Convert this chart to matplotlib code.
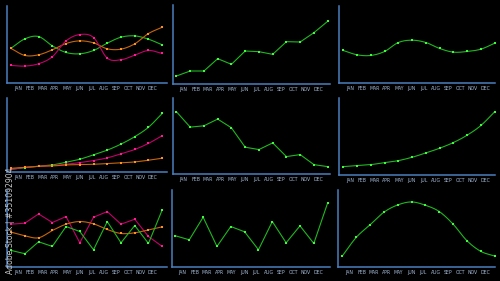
import numpy as np
import matplotlib
matplotlib.use("Agg")
import matplotlib.pyplot as plt

months = ["JAN", "FEB", "MAR", "APR", "MAY", "JUN", "JUL", "AUG", "SEP", "OCT", "NOV", "DEC"]

# Panel 1 (top-left)
p1_green = [105, 133, 140, 112, 92, 88, 98, 120, 138, 142, 132, 115]
p1_orange = [104, 83, 85, 100, 119, 127, 121, 103, 102, 118, 149, 168]
p1_magenta = [53, 51, 58, 79, 127, 146, 137, 75, 70, 84, 98, 89]
# Panel 2 (top-middle)
p2_green = [24, 39, 39, 76, 59, 99, 97, 89, 127, 126, 154, 188]
# Panel 3 (top-right)
p3_green = [98, 85, 83, 95, 122, 129, 122, 104, 93, 95, 102, 120]
# Panel 4 (middle-left)
p4_green = [8, 13, 17, 21, 29, 38, 51, 65, 83, 105, 133, 174]
p4_magenta = [8, 14, 17, 19, 23, 28, 34, 42, 54, 67, 85, 108]
p4_orange = [11, 14, 17, 18, 21, 22, 23, 25, 27, 30, 35, 41]
# Panel 5 (center)
p5_green = [186, 140, 144, 164, 138, 80, 73, 93, 52, 58, 28, 22]
# Panel 6 (middle-right)
p6_green = [25, 28, 31, 37, 43, 53, 66, 80, 97, 119, 148, 189]
# Panel 7 (bottom-left)
p7_magenta = [129, 132, 160, 134, 152, 73, 150, 167, 129, 144, 92, 62]
p7_orange = [105, 94, 88, 110, 129, 137, 130, 113, 101, 103, 112, 121]
p7_green = [50, 40, 76, 62, 122, 107, 52, 137, 73, 125, 71, 172]
# Panel 8 (bottom-middle)
p8_green = [94, 82, 150, 62, 122, 106, 52, 137, 73, 124, 71, 193]
# Panel 9 (bottom-right)
p9_green = [33, 89, 127, 165, 187, 196, 186, 167, 129, 79, 47, 33]

BG = "#000000"
SPINE = "#4a7fbf"
LABEL = "#a8bedc"
STY = {
    "green": ("#1fb81f", "#3cff3c"),
    "orange": ("#c8650a", "#ff911f"),
    "magenta": ("#c4006a", "#ff1a94"),
}


def catmull(x, y, n=12):
    x = np.asarray(x, float)
    y = np.asarray(y, float)
    px = np.concatenate([[2 * x[0] - x[1]], x, [2 * x[-1] - x[-2]]])
    py = np.concatenate([[2 * y[0] - y[1]], y, [2 * y[-1] - y[-2]]])
    xs, ys = [], []
    t = np.linspace(0, 1, n, endpoint=False)
    for i in range(1, len(px) - 2):
        def cr(a0, a1, a2, a3):
            return 0.5 * ((2 * a1) + (-a0 + a2) * t + (2 * a0 - 5 * a1 + 4 * a2 - a3) * t ** 2
                          + (-a0 + 3 * a1 - 3 * a2 + a3) * t ** 3)
        xs.append(cr(px[i - 1], px[i], px[i + 1], px[i + 2]))
        ys.append(cr(py[i - 1], py[i], py[i + 1], py[i + 2]))
    xs.append([x[-1]])
    ys.append([y[-1]])
    return np.concatenate(xs), np.concatenate(ys)


fig = plt.figure(figsize=(5.0, 2.81), dpi=100, facecolor=BG)
W, H = 500.0, 281.0


def panel(left, top, right, bottom, ymax, series, xlim):
    ax = fig.add_axes([left / W, 1 - bottom / H, (right - left) / W, (bottom - top) / H])
    ax.set_facecolor(BG)
    x = np.arange(len(months))
    for vals, color, smooth in series:
        lc, mc = STY[color]
        if smooth:
            sx, sy = catmull(x, vals)
        else:
            sx, sy = x, vals
        ax.plot(sx, sy, color=lc, lw=0.8, zorder=2)
        ax.plot(x, vals, ls="none", marker="s", ms=2.1, mfc=mc, mec=mc, mew=0, zorder=3)
    ax.set_xlim(*xlim)
    ax.set_ylim(0, ymax)
    for s in ["top", "right"]:
        ax.spines[s].set_visible(False)
    for s in ["left", "bottom"]:
        ax.spines[s].set_color(SPINE)
        ax.spines[s].set_linewidth(1.1)
    ax.set_yticks([])
    ax.set_xticks(np.linspace(0.5, 10.3, 12))
    ax.set_xticklabels(months, fontsize=3.3, color=LABEL, family="DejaVu Sans Condensed")
    ax.tick_params(axis="x", length=0, pad=2.2)
    return ax


panel(7, 6, 167, 83, 232,
      [(p1_green, "green", True), (p1_orange, "orange", True), (p1_magenta, "magenta", True)],
      (-0.3, 11.35))
panel(173, 5, 330, 84, 237, [(p2_green, "green", False)], (-0.25, 11.17))
panel(339, 6, 495, 83, 232, [(p3_green, "green", True)], (-0.31, 11.02))

panel(7, 98, 167, 172, 220,
      [(p4_green, "green", True), (p4_magenta, "magenta", True), (p4_orange, "orange", True)],
      (-0.3, 11.35))
panel(173, 98, 330, 174, 227, [(p5_green, "green", False)], (-0.25, 11.17))
panel(339, 98, 495, 175, 230, [(p6_green, "green", True)], (-0.31, 11.02))

panel(7, 190, 167, 267, 232,
      [(p7_magenta, "magenta", False), (p7_orange, "orange", True), (p7_green, "green", False)],
      (-0.3, 11.35))
panel(172, 190, 330, 267, 232, [(p8_green, "green", False)], (-0.25, 11.17))
panel(338, 190, 495, 267, 232, [(p9_green, "green", True)], (-0.31, 11.02))

fig.text(11 / W, 1 - 221 / H, "Adobe Stock | #351092904", rotation=90, color="#c8c8c8",
         fontsize=5.6, ha="center", va="center", zorder=5)

fig.savefig("out.png", dpi=100, facecolor=BG)
